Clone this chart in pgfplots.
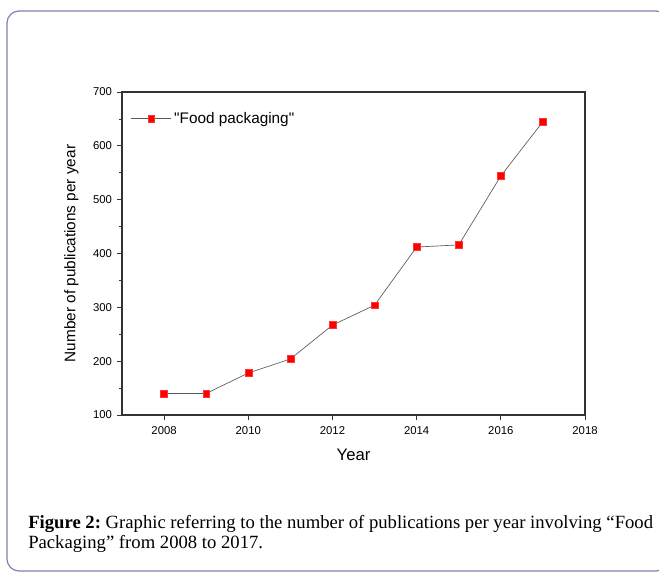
\documentclass[border=0pt]{standalone}
\usepackage{pgfplots}
\pgfplotsset{compat=1.18}
\usepackage{fontspec}
\setmainfont{Liberation Serif}
\newfontfamily\arial{Liberation Sans}
\definecolor{frame}{RGB}{128,128,178}
\frenchspacing
\begin{document}
\begin{tikzpicture}
\begin{scope}[x=0.75pt,y=0.75pt]
\useasboundingbox (0,0) rectangle (659,572);
\begin{scope}
\clip (0,0) rectangle (659,572);
\draw[frame,line width=0.9pt,rounded corners=9pt] (7,1) rectangle (668,561);
\end{scope}
\node[anchor=base west, font=\fontsize{14}{15}\selectfont, inner sep=0pt]
  at (28,572-528) {\textbf{Figure 2:} Graphic referring to the number of publications per year involving “Food};
\node[anchor=base west, font=\fontsize{14}{15}\selectfont, inner sep=0pt]
  at (28,572-548) {Packaging” from 2008 to 2017.};
\end{scope}
\begin{axis}[
  at={(91.5pt,117.75pt)}, anchor=south west,
  width=347.25pt, height=242.25pt, scale only axis,
  xmin=2007, xmax=2018, ymin=100, ymax=700,
  xtick={2008,2010,...,2018}, ytick={100,200,...,700},
  minor x tick num=1, minor y tick num=1,
  tick align=outside, tick pos=left,
  major tick length=4pt, minor tick length=2.5pt,
  axis line style={black!80, line width=0.8pt},
  every tick/.style={black!80, line width=0.6pt},
  ticklabel style={font=\arial\fontsize{8.5}{10}\selectfont},
  xticklabel style={yshift=-1pt},
  /pgf/number format/assume math mode=true,
  /pgf/number format/1000 sep={},
  xlabel={\arial\fontsize{12.5}{14}\selectfont Year},
  ylabel={\arial\fontsize{11.5}{13}\selectfont Number of publications per year},
  xlabel style={yshift=-4pt},
  ylabel style={yshift=4pt},
  legend style={draw=none, fill=none, at={(0.01,0.955)}, anchor=north west,
    font=\arial\fontsize{11.5}{13}\selectfont},
  legend cell align=left,
  legend image code/.code={
    \draw[#1, mark=none] (0cm,0cm) -- (30pt,0cm);
    \draw[#1, only marks] plot coordinates {(15pt,0cm)};
  },
]
\addplot[color=black!65, line width=0.5pt, mark=square*, mark size=2.6pt,
  mark options={fill=red, draw=red!80!white, line width=0.3pt}]
  coordinates {
  (2008,140) (2009,140) (2010,178) (2011,204) (2012,267)
  (2013,304) (2014,412) (2015,416) (2016,544) (2017,645)
  };
\addlegendentry{"Food packaging"}
\end{axis}
\end{tikzpicture}
\end{document}
